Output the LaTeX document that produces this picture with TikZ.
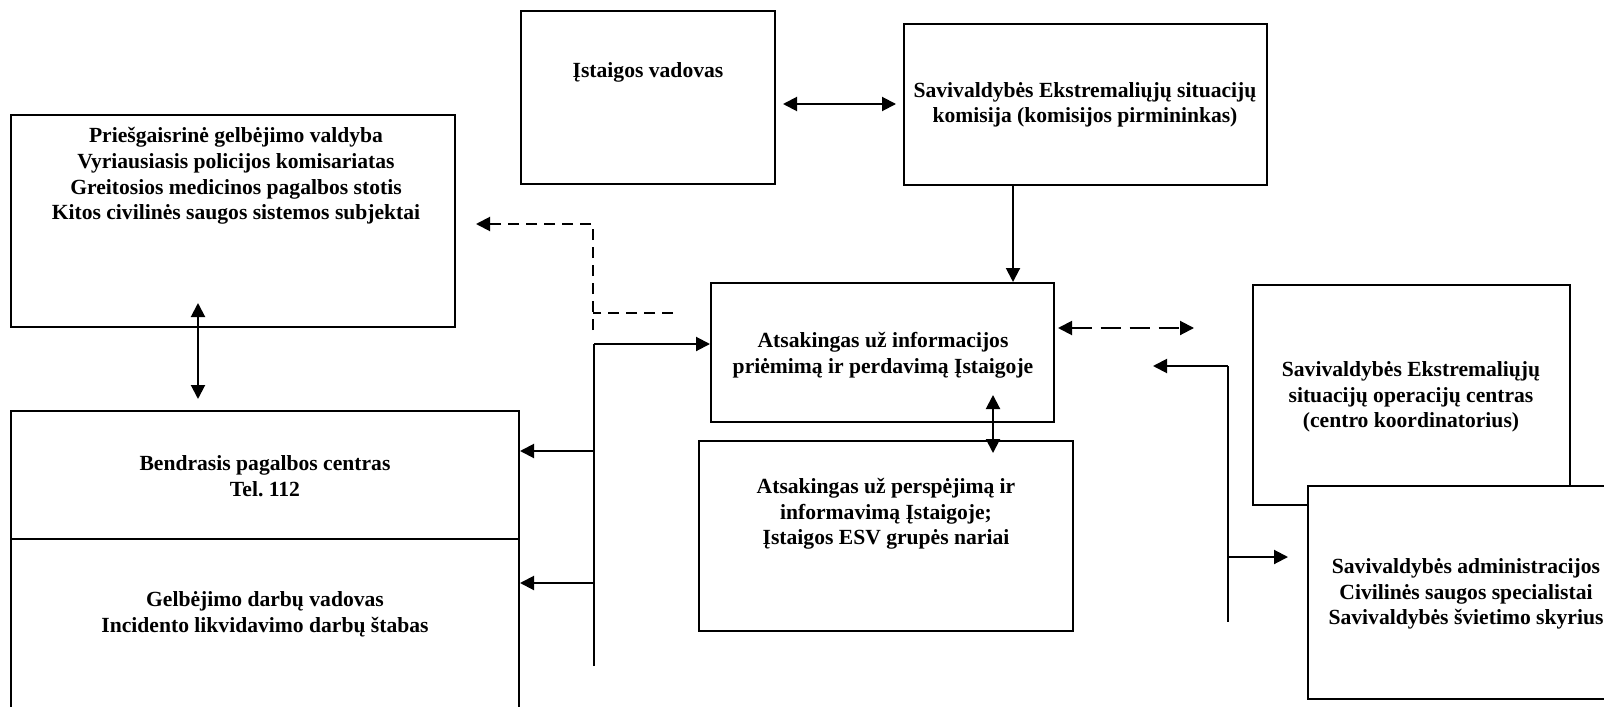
\documentclass[tikz,border=0pt]{standalone}
\usepackage{fontspec}
\setmainfont{Liberation Serif}
\usetikzlibrary{arrows.meta,fit}
\begin{document}
\begin{tikzpicture}[x=0.5pt,y=-0.5pt,
  box/.style={draw,line width=1pt,fill=white,inner sep=0pt},
  txt/.style={font=\bfseries\fontsize{10.8}{12.8}\selectfont,align=center,inner sep=0pt},
  conn/.style={line width=1pt},
  arr/.style={conn,-{Triangle[length=7pt,width=7pt]}},
  dbl/.style={conn,{Triangle[length=7pt,width=7pt]}-{Triangle[length=7pt,width=7pt]}},
  dshA/.style={dash pattern=on 5.5pt off 3.5pt},
  dshB/.style={dash pattern=on 10pt off 4.5pt}]
\useasboundingbox (0,0) rectangle (1604,706);
% boxes
\node[box,fit={(11,115) (455,327)}] (pgv) {};
\node[box,fit={(11,411) (519,539)}] (bpc) {};
\node[box,fit={(11,539) (519,712)}] (gdv) {};
\node[box,fit={(521,11) (775,184)}] (vad) {};
\node[box,fit={(904,24) (1267,185)}] (kom) {};
\node[box,fit={(711,283) (1054,422)}] (info) {};
\node[box,fit={(699,441) (1073,631)}] (persp) {};
\node[box,fit={(1253,285) (1570,505)}] (opc) {};
\node[box,fit={(1308,486) (1624,699)}] (adm) {};
% texts
\node[txt] (tpgv) at (236,176) {Priešgaisrinė gelbėjimo valdyba\\Vyriausiasis policijos komisariatas\\Greitosios medicinos pagalbos stotis\\Kitos civilinės saugos sistemos subjektai};
\node[txt] (tbpc) at (265,476) {Bendrasis pagalbos centras\\Tel.\ 112};
\node[txt] (tgdv) at (265,614) {Gelbėjimo darbų vadovas\\Incidento likvidavimo darbų štabas};
\node[txt] (tvad) at (648,72) {Įstaigos vadovas};
\node[txt] (tkom) at (1085,105) {Savivaldybės Ekstremaliųjų situacijų\\komisija (komisijos pirmininkas)};
\node[txt] (tinfo) at (883,355) {Atsakingas už informacijos\\priėmimą ir perdavimą Įstaigoje};
\node[txt] (tpersp) at (886,514) {Atsakingas už perspėjimą ir\\informavimą Įstaigoje;\\Įstaigos ESV grupės nariai};
\node[txt] (topc) at (1411,397) {Savivaldybės Ekstremaliųjų\\situacijų operacijų centras\\(centro koordinatorius)};
\node[txt] (tadm) at (1466,594) {Savivaldybės administracijos\\Civilinės saugos specialistai\\Savivaldybės švietimo skyrius};
% free-end coordinates
\coordinate (v1) at (783,104);
\coordinate (k1) at (896,104);
\coordinate (p1) at (198,303);
\coordinate (b1) at (198,399);
\coordinate (d1) at (673,313);
\coordinate (d2) at (593,313);
\coordinate (d3) at (593,330);
\coordinate (d4) at (593,224);
\coordinate (d5) at (476,224);
\coordinate (bt) at (594,344);
\coordinate (bb) at (594,666);
\coordinate (bm1) at (594,451);
\coordinate (bm2) at (594,583);
\coordinate (i1) at (993,395);
\coordinate (i2) at (993,453);
\coordinate (e1) at (1058,328);
\coordinate (e2) at (1194,328);
\coordinate (r1) at (1228,366);
\coordinate (r2) at (1153,366);
\coordinate (r3) at (1228,622);
\coordinate (r4) at (1228,557);
\coordinate (r5) at (1288,557);
% connectors
\draw[dbl] (v1) -- (k1);
\draw[arr] (kom.south -| 1013,0) -- (info.north -| 1013,0);
\draw[dbl] (p1) -- (b1);
\draw[conn,dshA] (d1) -- (d2);
\draw[arr,dshA] (d3) -- (d4) -- (d5);
\draw[conn] (bb) -- (bt);
\draw[arr] (bt) -- (info.west |- bt);
\draw[arr] (bm1) -- (bpc.east |- bm1);
\draw[arr] (bm2) -- (gdv.east |- bm2);
\draw[dbl] (i1) -- (i2);
\draw[dbl,dshB] (e1) -- (e2);
\draw[arr] (r1) -- (r2);
\draw[conn] (r1) -- (r3);
\draw[arr] (r4) -- (r5);
\end{tikzpicture}
\end{document}
